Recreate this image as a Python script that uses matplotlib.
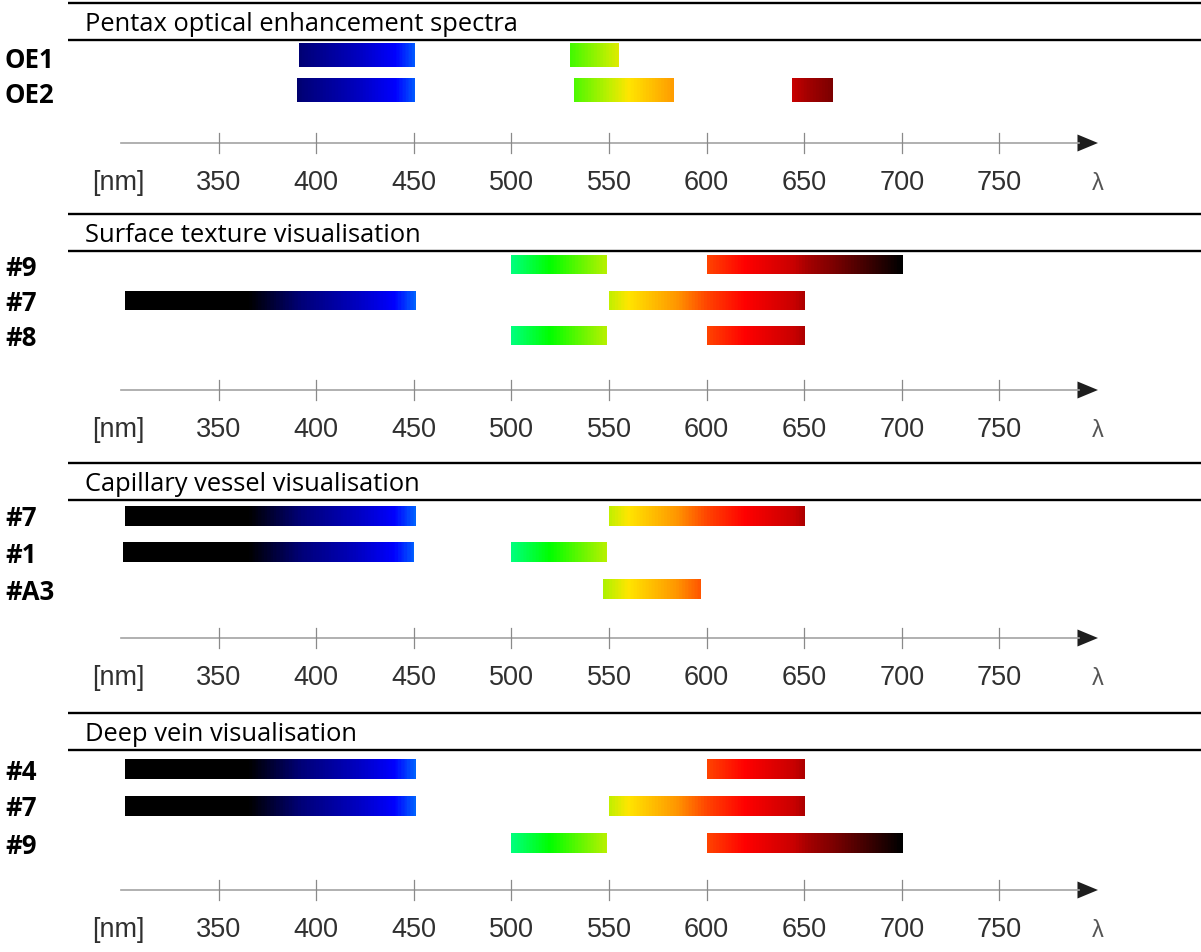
import numpy as np
import matplotlib.pyplot as plt
from matplotlib.colors import LinearSegmentedColormap, Normalize
from matplotlib.patches import Polygon

W, H, DPI = 1201, 952, 100

# filter bands per panel, in nm
titles = ['Pentax optical enhancement spectra', 'Surface texture visualisation',
          'Capillary vessel visualisation', 'Deep vein visualisation']

oe_labels = ['OE1', 'OE2']
oe_bands = [[(391, 450), (530, 555)],
            [(390, 450), (532, 583), (644, 665)]]

surface_labels = ['#9', '#7', '#8']
surface_bands = [[(500, 549), (600, 700)],
                 [(302, 451), (550, 650)],
                 [(500, 549), (600, 650)]]

capillary_labels = ['#7', '#1', '#A3']
capillary_bands = [[(302, 451), (550, 650)],
                   [(301, 450), (500, 549)],
                   [(547, 597)]]

deep_labels = ['#4', '#7', '#9']
deep_bands = [[(302, 451), (600, 650)],
              [(302, 451), (550, 650)],
              [(500, 549), (600, 700)]]

tick_nm = [350, 400, 450, 500, 550, 600, 650, 700, 750]

# wavelength -> colour ramp used to shade each band
spec_nm = [300, 365, 392, 420, 440, 452, 500, 520, 550, 560, 585, 600, 620, 645, 652, 665, 700]
spec_rgb = [(0, 0, 0), (0, 0, 0), (0, 0, 120), (0, 0, 190), (0, 0, 255), (0, 110, 255),
            (0, 255, 128), (0, 255, 0), (190, 240, 0), (255, 230, 0), (255, 150, 0),
            (255, 70, 0), (255, 0, 0), (200, 0, 0), (165, 0, 0), (125, 0, 0), (0, 0, 0)]
NM0, NM1 = 300, 700
spectrum = LinearSegmentedColormap.from_list(
    'spectrum',
    [((n - NM0) / (NM1 - NM0), tuple(c / 255 for c in rgb)) for n, rgb in zip(spec_nm, spec_rgb)])
norm = Normalize(NM0, NM1)

# page layout (pixels from the top)
panel_top = [3, 214, 463, 713]
first_row = [55, 265, 516, 769]
axis_y = [143, 390, 638, 890]
row_pitch = [35.5, 35.5, 36.5, 37]
bar_h = [24, 19, 20, 20]
label_dy = [5, 3, 3, 3]

PX_PER_NM = 1.952
X0_PX = 121          # 300 nm
x_left = NM0 - X0_PX / PX_PER_NM
x_right = NM0 + (W - X0_PX) / PX_PER_NM

fig = plt.figure(figsize=(W / DPI, H / DPI), dpi=DPI)
ax = fig.add_axes([0, 0, 1, 1])
ax.set_axis_off()
xfrac = ax.get_yaxis_transform()

panels = [(oe_labels, oe_bands), (surface_labels, surface_bands),
          (capillary_labels, capillary_bands), (deep_labels, deep_bands)]

for p, (labels, bands) in enumerate(panels):
    top = panel_top[p]
    # title block with rules above and below
    ax.plot([68 / W, 1], [top, top], color='black', lw=1.7, transform=xfrac, solid_capstyle='butt')
    ax.plot([68 / W, 1], [top + 37, top + 37], color='black', lw=1.7, transform=xfrac,
            solid_capstyle='butt')
    ax.text(85 / W, top + 28, titles[p], transform=xfrac, fontsize=18.4, family='Open Sans',
            va='baseline', ha='left', color='black')

    for i, (lab, row) in enumerate(zip(labels, bands)):
        yc = first_row[p] + i * row_pitch[p]
        ax.text(5 / W, yc + label_dy[p], lab, transform=xfrac, fontsize=18.5, family='Open Sans',
                weight='bold', va='center', ha='left')
        for s, e in row:
            grad = np.linspace(s, e, 256)[None, :]
            ax.imshow(grad, cmap=spectrum, norm=norm, aspect='auto', interpolation='bilinear',
                      extent=(s, e, yc + bar_h[p] / 2, yc - bar_h[p] / 2))

    # wavelength axis with arrow head
    ya = axis_y[p]
    ax.plot([NM0, 791], [ya, ya], color='#a3a3a3', lw=1.2)
    for t in tick_nm:
        ax.plot([t, t], [ya - 10, ya + 10], color='#8a8a8a', lw=0.9)
        ax.text(t, ya + 40, str(t), fontsize=19.5, family='Liberation Sans', color='#303030',
                ha='center', va='center')
    ax.add_patch(Polygon([(790, ya - 8.5), (800.5, ya), (790, ya + 8.5)], closed=True,
                         color='#1e1e1e', lw=0))
    ax.text(298.5, ya + 40, '[nm]', fontsize=19.5, family='Liberation Sans', color='#303030',
            ha='center', va='center')
    ax.text(800.5, ya + 41, 'λ', fontsize=17, family='Liberation Sans', color='#555555',
            ha='center', va='center')

ax.set_xlim(x_left, x_right)
ax.set_ylim(H, 0)

fig.savefig('out.png', dpi=DPI)
